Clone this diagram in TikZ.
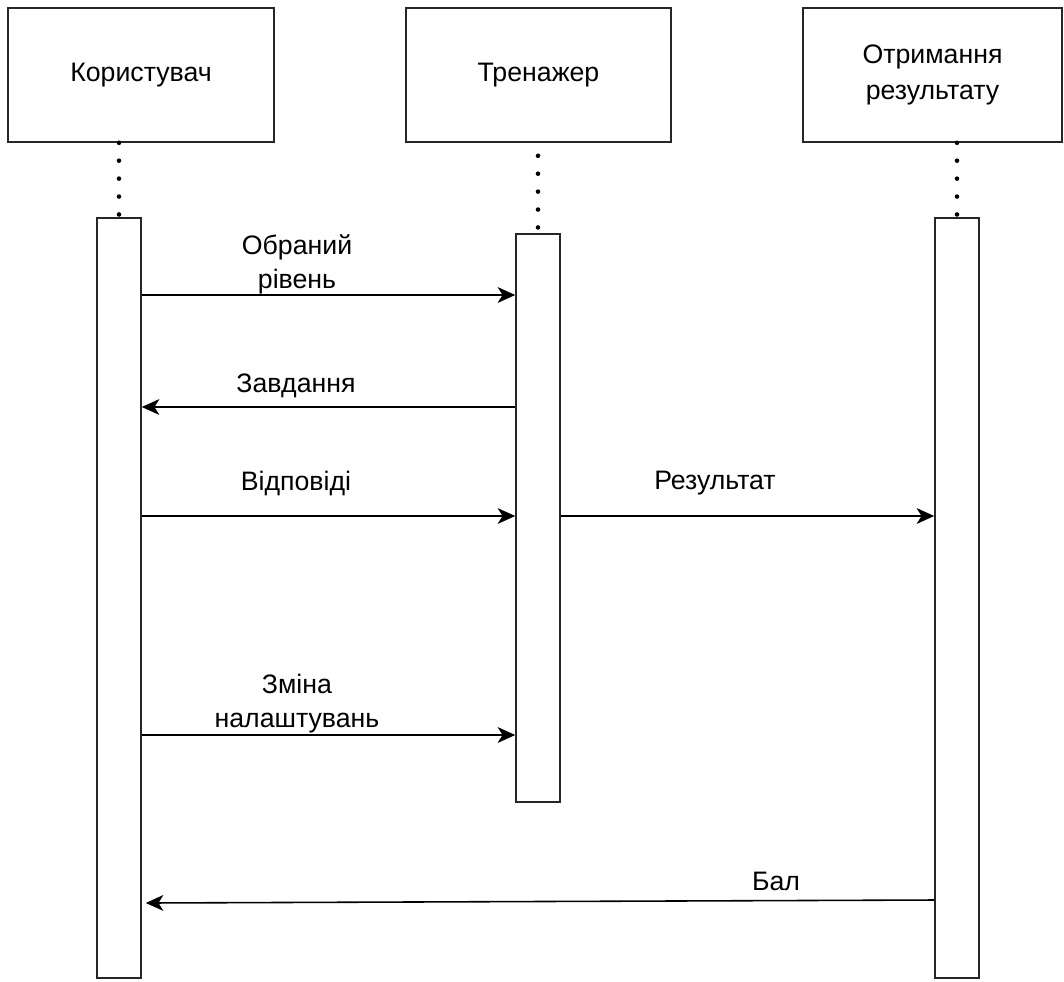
\documentclass[tikz,border=0pt]{standalone}
\usepackage{fontspec}
\setmainfont{Liberation Sans}
\usetikzlibrary{positioning,calc,arrows.meta}

\begin{document}
\begin{tikzpicture}[x=0.02cm, y=-0.02cm,
    actor box/.style={draw=black!85, line width=0.9pt, rectangle, minimum height=2.68cm, align=center, font=\fontsize{15.2}{20.5}\selectfont},
    act bar/.style={draw=black!85, line width=0.9pt, rectangle, minimum width=0.88cm, inner sep=0pt},
    life/.style={line width=2.6pt, line cap=round, dash pattern=on 0pt off 10.2pt},
    msg/.style={line width=0.9pt, -{Stealth[length=10pt, width=9pt, inset=2.8pt]}},
    lbl/.style={align=center, font=\fontsize{15.2}{19.3}\selectfont}]
    \useasboundingbox (0,0) rectangle (1064,981);
    % actors
    \node[actor box, minimum width=5.32cm] (user) at (141,75) {Користувач};
    \node[actor box, minimum width=5.30cm] (trainer) at (538.5,75) {Тренажер};
    \node[actor box, minimum width=5.18cm] (result) at (932.5,75) {Отримання\\результату};
    % activation bars
    \node[act bar, minimum height=15.2cm] (uact) at (119,598) {};
    \node[act bar, minimum height=11.36cm] (tact) at (538,518) {};
    \node[act bar, minimum height=15.2cm] (ract) at (957,598) {};
    % lifelines
    \draw[life] (uact.north |- user.south) -- (uact.north);
    \draw[life] ($(tact.north |- trainer.south)+(0,13)$) -- (tact.north);
    \draw[life] (ract.north |- result.south) -- (ract.north);
    % messages
    \draw[msg] (uact.east |- 0,295) -- (tact.west |- 0,295);
    \draw[msg] (tact.west |- 0,407) -- (uact.east |- 0,407);
    \draw[msg] (uact.east |- 0,516) -- (tact.west |- 0,516);
    \draw[msg] (tact.east |- 0,516) -- (ract.west |- 0,516);
    \draw[msg] (uact.east |- 0,735) -- (tact.west |- 0,735);
    \draw[msg] (ract.west |- 0,900) -- ($(uact.east |- 0,903)+(4,0)$);
    % labels
    \node[lbl] (l1) at (297,264) {Обраний\\рівень};
    \node[lbl] (l2) at (296,386) {Завдання};
    \node[lbl] (l3) at (296,483) {Відповіді};
    \node[lbl] (l4) at (715,483) {Результат};
    \node[lbl] (l5) at (297,704) {Зміна\\налаштувань};
    \node[lbl] (l6) at (776,881) {Бал};
\end{tikzpicture}
\end{document}
